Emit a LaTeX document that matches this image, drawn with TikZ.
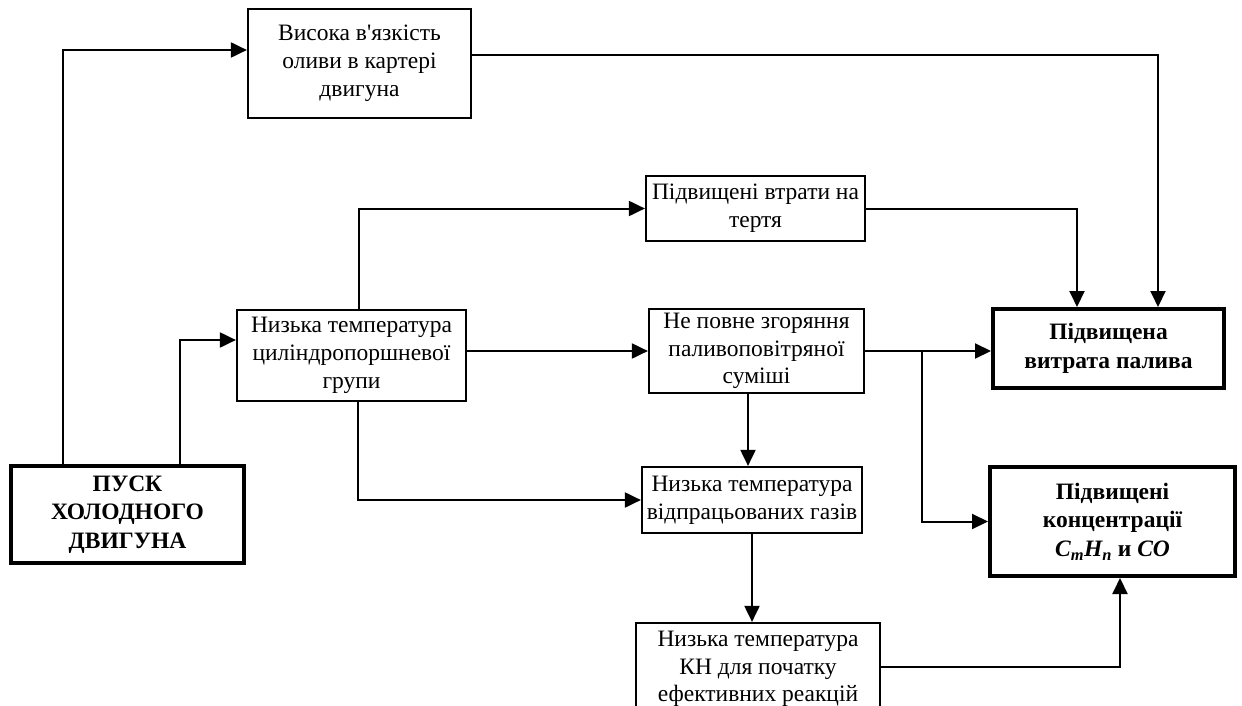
\documentclass[tikz,border=0pt]{standalone}
\usepackage{fontspec}
\setmainfont[Ligatures=TeXOff]{Liberation Serif}
\usetikzlibrary{arrows.meta}
\begin{document}
\begin{tikzpicture}[x=1pt,y=-1pt,
  box/.style={draw,line width=2.2pt,align=center,inner sep=0pt,font=\fontsize{23.5}{27.8}\selectfont},
  bbox/.style={draw,line width=4pt,align=center,inner sep=0pt,font=\fontsize{23.5}{28.5}\selectfont\bfseries},
  conn/.style={line width=2pt},
  arr/.style={conn,-{Triangle[length=16pt,width=15pt]}}]
\useasboundingbox (0,0) rectangle (1242,706);
\fill[white] (0,0) rectangle (1242,706);
\begin{scope}
\clip (0,0) rectangle (1242,706);
\node[box,minimum width=223pt,minimum height=109pt] (A) at (359.5,63.5) {Висока в'язкість\\оливи в картері\\двигуна};
\node[box,minimum width=229pt,minimum height=91pt] (B) at (351.5,355.5) {Низька температура\\циліндропоршневої\\групи};
\node[box,minimum width=219pt,minimum height=65pt] (F) at (755.5,208.5) {Підвищені втрати на\\тертя};
\node[box,minimum width=215pt,minimum height=84pt] (C) at (756.5,351) {Не повне згоряння\\паливоповітряної\\суміші};
\node[box,minimum width=220pt,minimum height=66pt] (G) at (752,500) {Низька температура\\відпрацьованих газів};
\node[box,minimum width=244pt,minimum height=92pt] (H) at (758,669) {Низька температура\\КН для початку\\ефективних реакцій};
\node[bbox,minimum width=233pt,minimum height=97pt] (P) at (127.5,514.5) {ПУСК\\ХОЛОДНОГО\\ДВИГУНА};
\node[bbox,minimum width=231pt,minimum height=79pt] (R1) at (1108.5,348.5) {Підвищена\\витрата палива};
\node[bbox,minimum width=245pt,minimum height=109pt] (R2) at (1112.5,521.5) {Підвищені\\концентрації\\\textit{C\textsubscript{m}H\textsubscript{n}} и \textit{CO}};
\coordinate (J) at (922,351);

\draw[arr] ([xshift=-65pt]P.north) |- ([yshift=13.5pt]A.west);
\draw[arr] ([xshift=52.5pt]P.north) |- ([yshift=15.5pt]B.west);
\draw[arr] ([yshift=8.5pt]A.east) -| ([xshift=49.5pt]R1.north);
\draw[arr] ([xshift=7.5pt]B.north) |- (F.west);
\draw[arr] (F.east) -| ([xshift=-31.5pt]R1.north);
\draw[arr] (B.east |- C.west) -- (C.west);
\draw[arr] (C.east) -- (C.east -| R1.west);
\draw[arr] (J) |- (R2.west);
\draw[arr] ([xshift=6.5pt]B.south) |- (G.west);
\draw[arr] ([xshift=-8.5pt]C.south) -- ([xshift=-8.5pt]C.south |- G.north);
\draw[arr] (G.south) -- (G.south |- H.north);
\draw[arr] ([yshift=2pt]H.east) -| ([xshift=7.5pt]R2.south);
\end{scope}
\end{tikzpicture}
\end{document}
